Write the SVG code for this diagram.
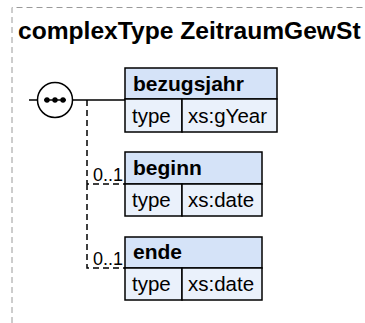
<svg xmlns="http://www.w3.org/2000/svg" width="365" height="323" viewBox="0 0 365 323">
<style>
.frame{fill:none;stroke:#9a9a9a;stroke-width:1;stroke-dasharray:6,4}
.title{font-family:"Liberation Sans",Arial,sans-serif;font-weight:bold;font-size:24.6px;fill:#000}
.hd{fill:#d5e3f8;stroke:#000;stroke-width:1.5}
.row{fill:#eaf1fb;stroke:#000;stroke-width:1.5}
.name{font-family:"Liberation Sans",Arial,sans-serif;font-weight:bold;font-size:21px;fill:#000}
.txt{font-family:"Liberation Sans",Arial,sans-serif;font-size:20.5px;fill:#000}
.card{font-family:"Liberation Sans",Arial,sans-serif;font-size:18px;fill:#000}
.solid{fill:none;stroke:#000;stroke-width:1.5}
.dash{fill:none;stroke:#000;stroke-width:1.5;stroke-dasharray:6,4}
</style>
<path class="frame" d="M12,323 V7.5 H365"/>
<text class="title" x="18" y="39">complexType ZeitraumGewSt</text>
<g id="connectors">
<path class="solid" d="M29,100 H38 M72,100 H125"/>
<path class="dash" d="M87,100 V184 H125 M87,184 V268 H125"/>
<text class="card" x="93" y="181">0..1</text>
<text class="card" x="93" y="265">0..1</text>
</g>
<g id="sequence">
<circle cx="55" cy="100" r="17.5" fill="#fff" stroke="#000" stroke-width="1.5"/>
<path d="M44,100 H66" stroke="#000" stroke-width="1.5"/>
<circle cx="47" cy="100" r="2.7"/>
<circle cx="55" cy="100" r="2.7"/>
<circle cx="63" cy="100" r="2.7"/>
</g>
<g id="bezugsjahr">
<rect class="hd" x="125" y="68" width="152" height="31"/>
<rect class="row" x="125" y="99" width="57" height="33"/>
<rect class="row" x="182" y="99" width="95" height="33"/>
<text class="name" x="133" y="91">bezugsjahr</text>
<text class="txt" x="132" y="123">type</text>
<text class="txt" x="188" y="123">xs:gYear</text>
</g>
<g id="beginn">
<rect class="hd" x="125" y="152" width="137" height="32"/>
<rect class="row" x="125" y="184" width="57" height="32"/>
<rect class="row" x="182" y="184" width="80" height="32"/>
<text class="name" x="133" y="175">beginn</text>
<text class="txt" x="132" y="207">type</text>
<text class="txt" x="188" y="207">xs:date</text>
</g>
<g id="ende">
<rect class="hd" x="125" y="237" width="137" height="31"/>
<rect class="row" x="125" y="268" width="57" height="32"/>
<rect class="row" x="182" y="268" width="80" height="32"/>
<text class="name" x="133" y="259">ende</text>
<text class="txt" x="132" y="291">type</text>
<text class="txt" x="188" y="291">xs:date</text>
</g>
</svg>
